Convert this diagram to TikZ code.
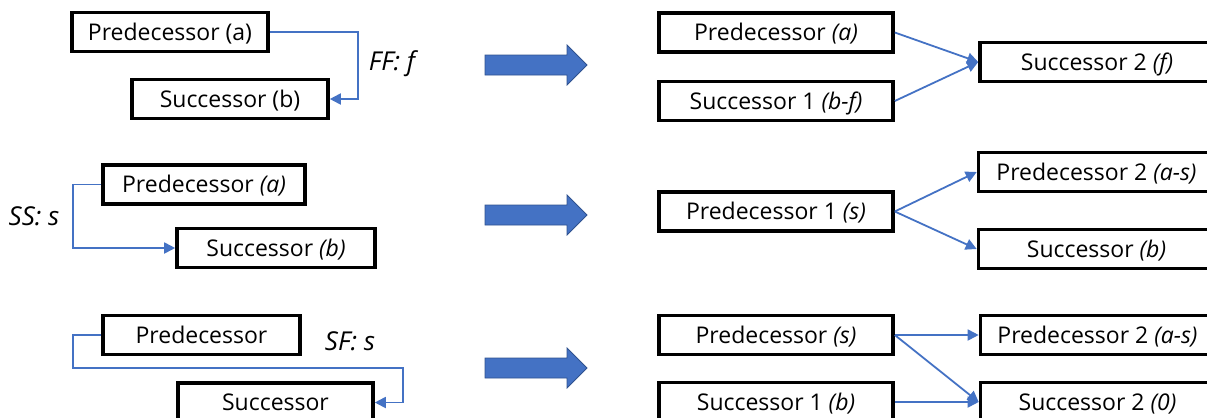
\documentclass[tikz,border=0pt]{standalone}
\usepackage{fontspec}
\setmainfont{Open Sans}
\usepackage{tikz}
\usetikzlibrary{arrows.meta,positioning,calc}
\definecolor{LinkBlue}{HTML}{4472C4}
\definecolor{EdgeBlue}{HTML}{2F528F}

\tikzset{
  task/.style={draw,line width=1.8pt,minimum height=19.5pt,inner sep=0pt,
    text height=10.2pt,text depth=2pt,font=\fontsize{11.5}{13}\selectfont},
  link/.style={LinkBlue,line width=0.9pt,-{Triangle[length=5.5pt,width=5.5pt]}},
  tag/.style={font=\fontsize{13}{15}\selectfont\itshape},
  bigarrow/.style={fill=LinkBlue,draw=EdgeBlue,line width=0.4pt}
}

\begin{document}
\begin{tikzpicture}[x=0.5pt,y=-0.5pt]
\useasboundingbox (0,0) rectangle (1207,418);
\clip (0,0) rectangle (1207,418);

% left column: the three relations
\node[task,minimum width=98pt] (ffpred) at (170,32) {Predecessor (a)};
\node[task,minimum width=98pt] (ffsucc) at (230,99) {Successor (b)};
\coordinate (ffturn) at (358,99);
\draw[link] (ffpred.east) -| (ffturn) -- (ffsucc.east);
\node[tag] (fftag) at (392,64) {FF: f};

\node[task,minimum width=101pt] (sspred) at (204,184.5) {Predecessor \textit{(a)}};
\node[task,minimum width=99pt] (sssucc) at (276,248) {Successor \textit{(b)}};
\coordinate (ssturn) at (73,248);
\draw[link] (sspred.west) -| (ssturn) -- (sssucc.west);
\node[tag] (sstag) at (34,216) {SS: s};

\node[task,minimum width=98.5pt] (sfpred) at (201.5,335) {Predecessor};
\node[task,minimum width=97.5pt] (sfsucc) at (275.5,402.5) {Successor};
\coordinate (sfdown) at (73,368);
\coordinate (sfover) at (403,368);
\draw[link] (sfpred.west) -| (sfdown) -- (sfover) |- (sfsucc.east);
\node[tag] (sftag) at (350,341) {SF: s};

% block arrows
\foreach \yc in {65,215,368}
  \draw[bigarrow] (485,\yc-10) -- (567,\yc-10) -- (567,\yc-20) -- (587,\yc)
    -- (567,\yc+20) -- (567,\yc+10) -- (485,\yc+10) -- cycle;

% right column: split tasks
\node[task,minimum width=117pt] (fsa) at (776,32.5) {Predecessor \textit{(a)}};
\node[task,minimum width=117pt] (fsb) at (776,101) {Successor 1 \textit{(b-f)}};
\node[task,minimum width=117pt] (fsc) at (1097,62) {Successor 2 \textit{(f)}};
\draw[link] (fsa.east) -- (fsc.west);
\draw[link] (fsb.east) -- (fsc.west);

\node[task,minimum width=117pt] (ssa) at (776,211.5) {Predecessor 1 \textit{(s)}};
\node[task,minimum width=118pt] (ssb) at (1096.5,172) {Predecessor 2 \textit{(a-s)}};
\node[task,minimum width=118pt] (ssc) at (1096.5,249) {Successor \textit{(b)}};
\draw[link] (ssa.east) -- (ssb.west);
\draw[link] (ssa.east) -- (ssc.west);

\node[task,minimum width=117pt] (sfa) at (776,335) {Predecessor \textit{(s)}};
\node[task,minimum width=117pt] (sfb) at (776,402) {Successor 1 \textit{(b)}};
\node[task,minimum width=117pt] (sfc) at (1097.5,335) {Predecessor 2 \textit{(a-s)}};
\node[task,minimum width=117pt] (sfd) at (1097.5,402) {Successor 2 \textit{(0)}};
\draw[link] (sfa.east) -- (sfc.west);
\draw[link] (sfa.east) -- (sfd.west);
\draw[link] (sfb.east) -- (sfd.west);
\end{tikzpicture}
\end{document}
